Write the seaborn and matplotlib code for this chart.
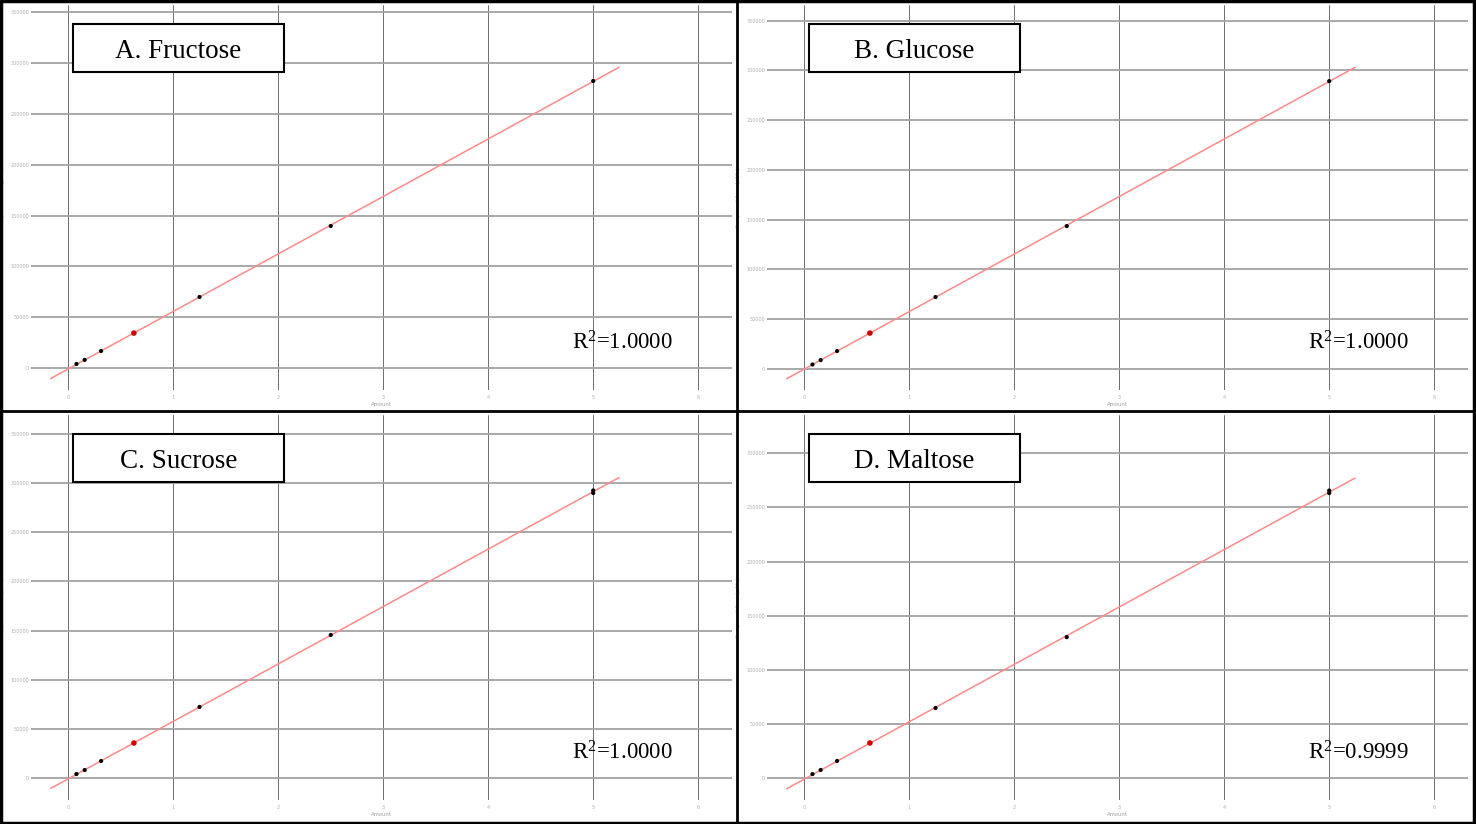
import numpy as np
import pandas as pd
import seaborn as sns
import matplotlib.pyplot as plt
from matplotlib.patches import Rectangle
from matplotlib.lines import Line2D

# calibration levels (Amount)
amount = [0.078, 0.156, 0.3125, 0.625, 1.25, 2.5, 5.0]
amount_dup5 = [0.078, 0.156, 0.3125, 0.625, 1.25, 2.5, 5.0, 5.0]

# compound areas
fructose_area = [4000, 8000, 16700, 34400, 69900, 139800, 282500]
glucose_area = [4500, 9000, 18000, 36100, 72300, 143600, 289200]
sucrose_area = [4000, 8100, 17300, 35600, 72300, 145600, 290000, 292600]
maltose_area = [3900, 7700, 16000, 32600, 64900, 130300, 263200, 265500]

titles = ["A. Fructose", "B. Glucose", "C. Sucrose", "D. Maltose"]
r2_values = ["1.0000", "1.0000", "1.0000", "0.9999"]
check_level = 0.625  # highlighted red point

W, H = 1476, 824
# panel offsets in pixels and y limits of each panel
offsets = [(0, 0), (736, 0), (0, 410), (736, 410)]
ylims = [(-21650, 357300), (-21100, 365700), (-22400, 369400), (-20000, 335200)]
ytop = [350000, 350000, 350000, 300000]

sns.set_style("white")
plt.rcParams["font.family"] = ["DejaVu Sans"]
plt.rcParams["mathtext.fontset"] = "custom"
plt.rcParams["mathtext.rm"] = "Liberation Serif"
plt.rcParams["mathtext.it"] = "Liberation Serif"

fig = plt.figure(figsize=(W / 100, H / 100), dpi=100)

datasets = [
    (amount, fructose_area),
    (amount, glucose_area),
    (amount_dup5, sucrose_area),
    (amount_dup5, maltose_area),
]

for i, (xs, ys) in enumerate(datasets):
    ox, oy = offsets[i]
    left, right, top, bottom = ox + 30.7, ox + 732, oy + 5, oy + 390
    ax = fig.add_axes([left / W, 1 - bottom / H, (right - left) / W, (bottom - top) / H])

    df = pd.DataFrame({"Amount": xs, "Area": ys})
    df["check"] = np.isclose(df["Amount"], check_level)

    # linear fit drawn over the data range +/- 5%
    slope, icpt = np.polyfit(df["Amount"], df["Area"], 1)
    span = df["Amount"].max() - df["Amount"].min()
    fx = np.array([df["Amount"].min() - 0.05 * span, df["Amount"].max() + 0.05 * span])
    fit = pd.DataFrame({"Amount": fx, "Area": slope * fx + icpt})
    sns.lineplot(data=fit, x="Amount", y="Area", ax=ax, color="#ff8a8a", lw=1.1, zorder=3)

    sns.scatterplot(data=df[~df["check"]], x="Amount", y="Area", ax=ax,
                    color="black", s=9, edgecolor="none", zorder=4)
    sns.scatterplot(data=df[df["check"]], x="Amount", y="Area", ax=ax,
                    color="#d00000", s=16, edgecolor="none", zorder=4)

    ax.set_xlim(-0.358, 6.322)
    ax.set_ylim(*ylims[i])
    ax.set_xticks(range(0, 7))
    ax.set_yticks(range(0, ytop[i] + 1, 50000))
    ax.grid(axis="y", color="#a3a3a3", lw=1.3)
    ax.grid(axis="x", color="#6e6e6e", lw=0.7)
    ax.set_axisbelow(True)
    for s in ax.spines.values():
        s.set_visible(False)
    ax.tick_params(length=0, labelsize=3.5, labelcolor="#b0b0b0")
    ax.tick_params(axis="y", pad=1.2)
    ax.tick_params(axis="x", pad=3.5)
    ax.set_xlabel("Amount", fontsize=3.8, color="#a0a0a0", labelpad=1.5)
    ax.set_ylabel("Compound Area (pA*s)", fontsize=3.8, color="#b0b0b0", labelpad=4)

    # title box
    bx0, by0, bx1, by1 = ox + 73, oy + 24, ox + 284, oy + 71.5
    fig.patches.append(Rectangle((bx0 / W, 1 - by1 / H), (bx1 - bx0) / W, (by1 - by0) / H,
                                 transform=fig.transFigure, facecolor="white",
                                 edgecolor="black", lw=1.5, zorder=5))
    fig.text((bx0 + bx1) / 2 / W, 1 - (oy + 57.5) / H, titles[i], color="black",
             family="Liberation Serif", fontsize=19.5, ha="center", va="baseline", zorder=6)

    fig.text((ox + 622) / W, 1 - (oy + 350) / H, r"R$^{2}$=" + r2_values[i], color="black",
             family="Liberation Serif", fontsize=16.5, ha="center", va="baseline", zorder=6)

# panel borders
border = dict(color="black", lw=2, transform=fig.transFigure)
fig.lines.append(Line2D([737 / W, 737 / W], [0, 1], **border))
fig.lines.append(Line2D([0, 1], [1 - 411 / H, 1 - 411 / H], **border))
fig.patches.append(Rectangle((0.0008, 0.001), 0.998, 0.998, transform=fig.transFigure,
                             fill=False, edgecolor="black", lw=2.5))

fig.savefig("out.png", dpi=100)
